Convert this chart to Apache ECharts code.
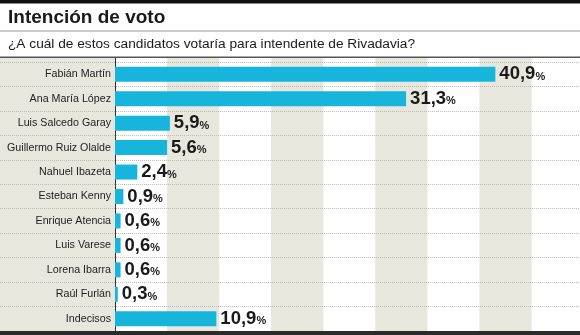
<!DOCTYPE html>
<html>
<head>
<meta charset="utf-8">
<script src="https://cdn.jsdelivr.net/npm/echarts@6/dist/echarts.min.js"></script>
<style>
html,body{margin:0;padding:0;background:#fff;}
#c{width:580px;height:335px;}
</style>
</head>
<body>
<div id="c"></div>
<script>
const titleText = 'Intención de voto';
const subtitleText = '¿A cuál de estos candidatos votaría para intendente de Rivadavia?';
const categories = ['Fabián Martín','Ana María López','Luis Salcedo Garay','Guillermo Ruiz Olalde','Nahuel Ibazeta','Esteban Kenny','Enrique Atencia','Luis Varese','Lorena Ibarra','Raúl Furlán','Indecisos'];
const values = [40.9, 31.3, 5.9, 5.6, 2.4, 0.9, 0.6, 0.6, 0.6, 0.3, 10.9];

const FONT = '"Liberation Sans", Arial, sans-serif';
const chart = echarts.init(document.getElementById('c'), null, {renderer:'canvas'});
chart.setOption({
  animation:false,
  backgroundColor:'#ffffff',
  title:[
    {text:titleText,left:3,top:3,textStyle:{fontFamily:FONT,fontSize:19,fontWeight:'bold',color:'#1a1a1a'}},
    {text:subtitleText,left:3,top:32,textStyle:{fontFamily:FONT,fontSize:13.7,fontWeight:'normal',color:'#1a1a1a'}}
  ],
  graphic:[
    {type:'rect',shape:{x:0,y:0,width:580,height:3.5},style:{fill:'#111'}},
    {type:'rect',shape:{x:0,y:30.5,width:580,height:1},style:{fill:'#9a9a9a'}},
    {type:'rect',shape:{x:0,y:56.5,width:580,height:1.5},style:{fill:'#555'},z:10},
    {type:'rect',shape:{x:0,y:331,width:580,height:4},style:{fill:'#2b2b2b'},z:10}
  ],
  grid:[
    {left:0,right:0,top:58,bottom:4,show:true,backgroundColor:'#e8e7de',borderWidth:0},
    {left:0,right:0,top:62,bottom:4,show:false},
    {left:115,right:0,top:58,bottom:4},
    {left:115,right:0,top:62,bottom:4}
  ],
  xAxis:[
    {gridIndex:0,type:'value',show:false,min:0,max:1},
    {gridIndex:1,type:'value',show:false,min:0,max:1},
    {gridIndex:2,type:'value',min:0,max:50,interval:5.6,z:1,
     axisLine:{show:false},axisTick:{show:false},axisLabel:{show:false},
     splitLine:{show:false},
     splitArea:{show:true,areaStyle:{color:['#ffffff','#e8e7de']}}},
    {gridIndex:3,type:'value',min:0,max:50,show:false}
  ],
  yAxis:[
    {gridIndex:0,type:'category',data:[''],show:false},
    {gridIndex:1,type:'category',data:categories,inverse:true,z:5,
     axisLine:{show:false},axisTick:{show:false},axisLabel:{show:false},
     splitLine:{show:true,lineStyle:{color:'#bdbdbd',type:[1,1],width:1}}},
    {gridIndex:2,type:'category',data:[''],z:6,
     axisLine:{show:true,lineStyle:{color:'#333',width:1},onZero:false},
     axisTick:{show:false},axisLabel:{show:false},splitLine:{show:false}},
    {gridIndex:3,type:'category',data:categories,inverse:true,z:6,
     axisLine:{show:false},
     axisTick:{show:false},
     axisLabel:{fontFamily:FONT,fontSize:10.7,color:'#222',margin:4},
     splitLine:{show:false}}
  ],
  series:[{
    type:'bar',xAxisIndex:3,yAxisIndex:3,data:values,barWidth:15,
    itemStyle:{color:'#17b4dc'},z:7,
    label:{show:true,position:'right',distance:4,
      formatter:p=>'{n|'+String(p.value).replace('.',',')+'}{p|%}',
      rich:{n:{fontFamily:FONT,fontSize:18.5,fontWeight:'bold',color:'#1a1a1a'},
            p:{fontFamily:FONT,fontSize:11,fontWeight:'bold',color:'#1a1a1a',padding:[5,0,0,0]}}}
  }]
});
</script>
</body>
</html>
